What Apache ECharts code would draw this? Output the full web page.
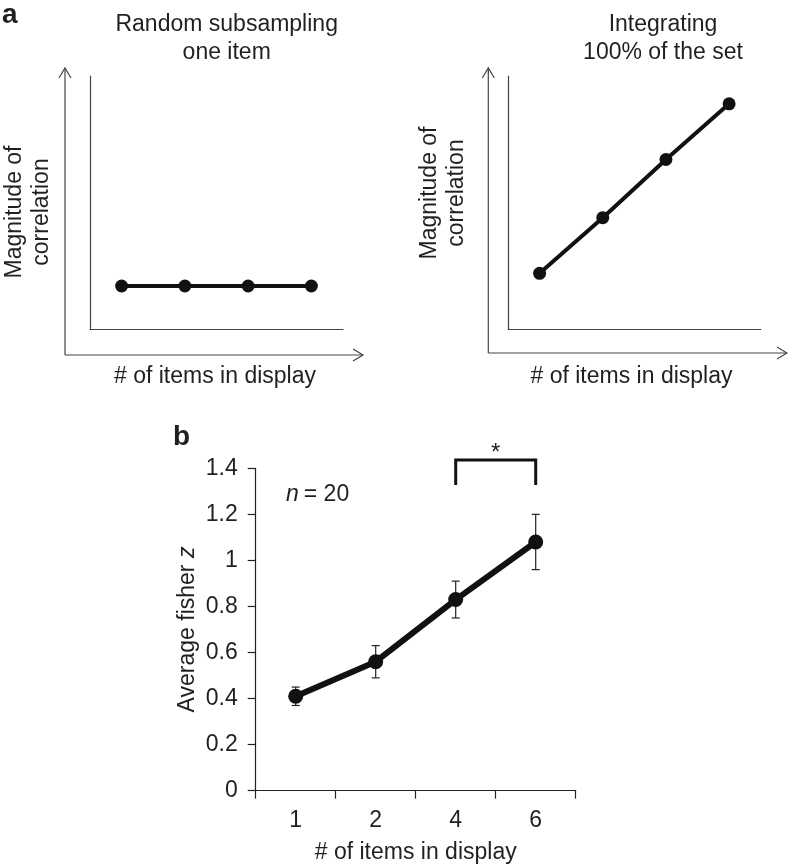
<!DOCTYPE html>
<html><head><meta charset="utf-8">
<script src="https://cdn.jsdelivr.net/npm/echarts@6/dist/echarts.min.js"></script>
<style>html,body{margin:0;padding:0;background:#fff}#c{width:788px;height:866px}</style>
</head><body><div id="c"></div>
<script>
// ---- data ----
const schematicCats = ['1', '2', '3', '4'];
const subsampleVals = [0.17, 0.17, 0.17, 0.17];
const integrateVals = [0.22, 0.44, 0.67, 0.89];
const displayCats = ['1', '2', '4', '6'];
const fisherZ = [0.41, 0.56, 0.83, 1.08];
const fisherErr = [0.04, 0.07, 0.08, 0.12];
const yMin = 0, yMax = 1.4, yStep = 0.2;
const bracketFrom = '4', bracketTo = '6', bracketTop = 1.436, bracketBottom = 1.327, bracketLabel = '*';
const titleLeft = 'Random subsampling\none item';
const titleRight = 'Integrating\n100% of the set';
const schematicYName = 'Magnitude of\ncorrelation';
const xName = '# of items in display';
const yNameB = 'Average fisher {i|z}';
const nLabel = 20;

const FONT = "'Liberation Sans', Arial, sans-serif";
const TXT = '#231f20';
const FS = 23;
const chart = echarts.init(document.getElementById('c'), null, {renderer: 'canvas'});

function schematicAxes(gi) {
  return {
    x: {type: 'category', gridIndex: gi, data: schematicCats, boundaryGap: true,
        axisLine: {show: true, lineStyle: {color: '#444', width: 1.2}},
        axisTick: {show: false}, axisLabel: {show: false}, splitLine: {show: false}},
    y: {type: 'value', gridIndex: gi, min: 0, max: 1,
        axisLine: {show: true, lineStyle: {color: '#444', width: 1.2}},
        axisTick: {show: false}, axisLabel: {show: false}, splitLine: {show: false}}
  };
}
const a0 = schematicAxes(0), a1 = schematicAxes(1);

function chevronV(x, y) { return {type: 'polyline', shape: {points: [[x - 6, y + 10], [x, y], [x + 6, y + 10]]}, style: {stroke: '#444', lineWidth: 1.2, fill: null}}; }
function chevronH(x, y) { return {type: 'polyline', shape: {points: [[x - 10, y - 6], [x, y], [x - 10, y + 6]]}, style: {stroke: '#444', lineWidth: 1.2, fill: null}}; }
function line(p) { return {type: 'polyline', shape: {points: p}, style: {stroke: '#444', lineWidth: 1.2, fill: null}}; }
function txt(x, y, text, opts) {
  return Object.assign({type: 'text', x: x, y: y, style: Object.assign({text: text, fill: TXT, font: FS + 'px ' + FONT, align: 'center', verticalAlign: 'middle', lineHeight: 28}, opts && opts.style || {})}, opts && opts.el || {});
}

const errData = fisherZ.map((v, i) => [i, v - fisherErr[i], v + fisherErr[i]]);

chart.setOption({
  animation: false,
  backgroundColor: '#fff',
  grid: [
    {left: 90, top: 76, width: 253, height: 253},
    {left: 508, top: 76, width: 252.7, height: 253},
    {left: 255.7, top: 468.3, width: 320, height: 322.4}
  ],
  xAxis: [a0.x, a1.x, {
    type: 'category', gridIndex: 2, data: displayCats, boundaryGap: true,
    axisLine: {lineStyle: {color: '#222', width: 1.2}},
    axisTick: {show: true, inside: false, length: 8, alignWithLabel: false, lineStyle: {color: '#222', width: 1.2}},
    axisLabel: {color: TXT, fontSize: FS, fontFamily: FONT, margin: 18},
    name: xName, nameLocation: 'middle', nameGap: 50,
    nameTextStyle: {color: TXT, fontSize: FS, fontFamily: FONT}
  }],
  yAxis: [a0.y, a1.y, {
    type: 'value', gridIndex: 2, min: yMin, max: yMax, interval: yStep,
    axisLine: {show: true, lineStyle: {color: '#222', width: 1.2}},
    axisTick: {show: true, length: 8, lineStyle: {color: '#222', width: 1.2}},
    axisLabel: {color: TXT, fontSize: FS, fontFamily: FONT, margin: 18},
    splitLine: {show: false},
    name: yNameB, nameLocation: 'middle', nameGap: 57,
    nameTextStyle: {color: TXT, fontSize: FS, fontFamily: FONT,
      rich: {i: {fontStyle: 'italic', fontSize: FS, fontFamily: FONT, color: TXT}}}
  }],
  series: [
    {type: 'line', xAxisIndex: 0, yAxisIndex: 0, data: subsampleVals, symbol: 'circle', symbolSize: 13,
     lineStyle: {color: '#111', width: 4}, itemStyle: {color: '#111'}},
    {type: 'line', xAxisIndex: 1, yAxisIndex: 1, data: integrateVals, symbol: 'circle', symbolSize: 13,
     lineStyle: {color: '#111', width: 4}, itemStyle: {color: '#111'}},
    {type: 'custom', xAxisIndex: 2, yAxisIndex: 2, data: errData, z: 1,
     renderItem: function (params, api) {
       const lo = api.coord([api.value(0), api.value(1)]);
       const hi = api.coord([api.value(0), api.value(2)]);
       const w = 4;
       const st = {stroke: '#222', lineWidth: 1.2};
       return {type: 'group', children: [
         {type: 'line', shape: {x1: hi[0], y1: hi[1], x2: lo[0], y2: lo[1]}, style: st},
         {type: 'line', shape: {x1: hi[0] - w, y1: hi[1], x2: hi[0] + w, y2: hi[1]}, style: st},
         {type: 'line', shape: {x1: lo[0] - w, y1: lo[1], x2: lo[0] + w, y2: lo[1]}, style: st}
       ]};
     }},
    {type: 'line', xAxisIndex: 2, yAxisIndex: 2, data: fisherZ, symbol: 'circle', symbolSize: 15, z: 3,
     lineStyle: {color: '#111', width: 6}, itemStyle: {color: '#111'}},
    {type: 'line', xAxisIndex: 2, yAxisIndex: 2, clip: false, symbol: 'none',
     data: [[bracketFrom, bracketBottom], [bracketFrom, bracketTop], [bracketTo, bracketTop], [bracketTo, bracketBottom]],
     lineStyle: {color: '#111', width: 3, join: 'miter'}}
  ]
});

const star = chart.convertToPixel({xAxisIndex: 2, yAxisIndex: 2}, [bracketFrom, bracketTop]);
const star2 = chart.convertToPixel({xAxisIndex: 2, yAxisIndex: 2}, [bracketTo, bracketTop]);

chart.setOption({
  graphic: [
    line([[65, 355], [65, 68]]), chevronV(65, 68),
    line([[65, 355], [363, 355]]), chevronH(363, 355),
    line([[488.3, 353], [488.3, 68]]), chevronV(488.3, 68),
    line([[488.3, 353], [787, 353]]), chevronH(787, 353),
    txt(2, 15, 'a', {style: {font: 'bold 28px ' + FONT, align: 'left'}}),
    txt(173, 437, 'b', {style: {font: 'bold 28px ' + FONT, align: 'left'}}),
    txt(226.7, 39, titleLeft),
    txt(663, 39, titleRight),
    txt(28.5, 212, schematicYName, {el: {rotation: Math.PI / 2}, style: {lineHeight: 27}}),
    txt(443, 193, schematicYName, {el: {rotation: Math.PI / 2}, style: {lineHeight: 27}}),
    txt(215, 377, xName),
    txt(631.5, 377, xName),
    {type: 'text', x: 286, y: 495, style: {rich: {i: {fontStyle: 'italic', fontSize: FS, fontFamily: FONT, fill: TXT, padding: [0, 5, 0, 0]}, r: {fontSize: FS, fontFamily: FONT, fill: TXT}}, text: '{i|n}{r|= ' + nLabel + '}', verticalAlign: 'middle', align: 'left'}},
    txt((star[0] + star2[0]) / 2, star[1] - 7, bracketLabel, {style: {font: '24px ' + FONT}})
  ]
});
</script></body></html>
